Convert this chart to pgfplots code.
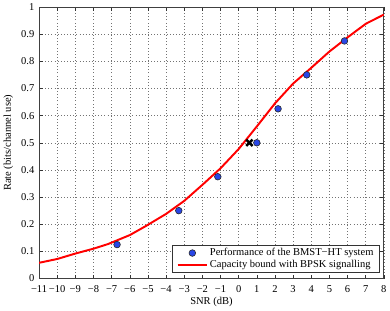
\documentclass[border=0pt]{standalone}
\usepackage{fontspec}
\setmainfont{Liberation Serif}
\usepackage{pgfplots}
\pgfplotsset{compat=1.18}
\definecolor{mblue}{RGB}{40,70,230}
\begin{document}
\fontsize{10.8}{13}\selectfont
\begin{tikzpicture}
\begin{axis}[
  scale only axis, width=353bp, height=278bp,
  xmin=-11, xmax=8, ymin=0, ymax=1,
  xtick={-11,-10,...,8},
  xticklabels={−11,−10,−9,−8,−7,−6,−5,−4,−3,−2,−1,0,1,2,3,4,5,6,7,8},
  ytick={0,0.1,0.2,0.3,0.4,0.5,0.6,0.7,0.8,0.9,1},
  yticklabels={0,0.1,0.2,0.3,0.4,0.5,0.6,0.7,0.8,0.9,1},
  grid=major,
  grid style={black!55, line width=0.5pt, dash pattern=on 0.6pt off 2.6pt},
  tick align=inside, major tick length=4bp,
  tick style={black!80, line width=0.5pt},
  axis line style={black!75, line width=0.9pt},
  xticklabel style={font=\fontsize{10.8}{13}\selectfont, yshift=-3bp},
  yticklabel style={font=\fontsize{10.8}{13}\selectfont, xshift=-1bp},
  xlabel={SNR (dB)}, ylabel={Rate (bits/channel use)},
  xlabel style={font=\fontsize{10.8}{13}\selectfont, yshift=2bp},
  ylabel style={font=\fontsize{10.8}{13}\selectfont, yshift=1bp},
  legend style={at={(0.988,0.02)}, anchor=south east, draw=black!80,
    line width=0.8pt, font=\fontsize{10.8}{13}\selectfont,
    inner ysep=1.5bp, inner xsep=4bp, row sep=-1bp},
  legend cell align=left,
  legend image code/.code={\draw[mark repeat=2, mark phase=2, #1] plot coordinates {(0bp,0bp) (15bp,0bp) (30bp,0bp)};},
]
\addplot[red, line width=2bp, forget plot] coordinates {
(-11,0.058) (-10,0.072) (-9,0.092) (-8,0.110) (-7.2,0.127) (-6,0.160)
(-5.15,0.192) (-4,0.238) (-3,0.286) (-2,0.345) (-1,0.406) (0,0.477)
(1,0.560) (2,0.645) (3,0.718) (4,0.776) (5,0.836) (6,0.888) (7,0.938) (8,0.972)
};
\addplot[only marks, mark=x, mark size=4.6bp, black, line width=2.6bp, forget plot] coordinates {(0.59,0.5)};
\addplot[only marks, mark=*, mark size=3.4bp, mark options={fill=mblue, draw=black!85, line width=0.6pt}] coordinates {
(-6.7,0.125) (-3.3,0.25) (-1.15,0.375) (1,0.5) (2.17,0.625) (3.75,0.75) (5.83,0.875)
};
\addlegendentry{Performance of the BMST−HT system}
\addlegendimage{red, line width=2bp}
\addlegendentry{Capacity bound with BPSK signalling}
\end{axis}
\end{tikzpicture}
\end{document}
